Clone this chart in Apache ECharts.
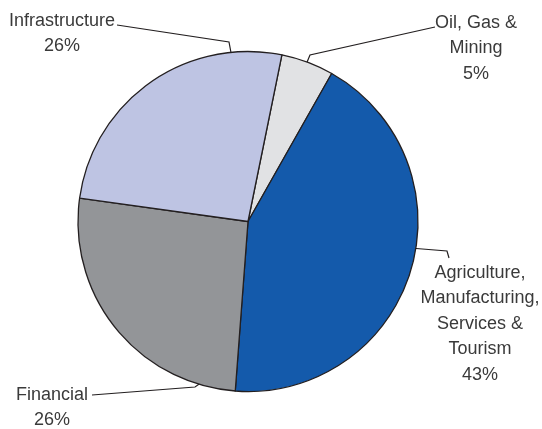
<!DOCTYPE html>
<html>
<head>
<meta charset="utf-8">
<script src="https://cdn.jsdelivr.net/npm/echarts@6/dist/echarts.min.js"></script>
<style>
  html, body { margin: 0; padding: 0; background: #ffffff; }
  #chart { width: 542px; height: 429px; }
</style>
</head>
<body>
<div id="chart"></div>
<script>
// Sector shares (percent), in clockwise order from the top
const sectors = ['Oil, Gas &\nMining', 'Agriculture,\nManufacturing,\nServices &\nTourism', 'Financial', 'Infrastructure'];
const shares = [5, 43, 26, 26];
const sliceColors = ['#e1e2e4', '#145aab', '#939598', '#bec4e3'];

// Label placement: text anchor (centre/top) and leader line from slice to text
const labelPlacement = [
  { x: 476, y: 10,  line: [[305, 67], [310, 55], [435, 27]] },
  { x: 480, y: 260, line: [[410, 248], [447, 251], [449, 258]] },
  { x: 52,  y: 382, line: [[205, 380], [195, 387], [92, 395]] },
  { x: 62,  y: 8,   line: [[232, 58], [229, 42], [117, 25]] }
];

const chart = echarts.init(document.getElementById('chart'), null, { renderer: 'canvas' });

chart.setOption({
  animation: false,
  backgroundColor: '#ffffff',
  series: [{
    type: 'pie',
    center: [248, 221.5],
    radius: 170,
    startAngle: 78.5,
    clockwise: true,
    silent: true,
    avoidLabelOverlap: false,
    data: sectors.map((name, i) => ({
      name: name,
      value: shares[i],
      itemStyle: { color: sliceColors[i] }
    })),
    itemStyle: { borderColor: '#231f20', borderWidth: 1.3 },
    label: {
      show: true,
      position: 'outside',
      formatter: '{b}\n{c}%',
      fontFamily: "'Liberation Sans', Arial, sans-serif",
      fontSize: 18,
      lineHeight: 25.5,
      color: '#3a3a3a',
      align: 'center',
      overflow: 'none'
    },
    labelLine: {
      show: true,
      length: 10,
      length2: 10,
      lineStyle: { color: '#231f20', width: 1.2 }
    },
    labelLayout: function (params) {
      const p = labelPlacement[params.dataIndex];
      return {
        x: p.x,
        y: p.y,
        align: 'center',
        verticalAlign: 'top',
        labelLinePoints: p.line
      };
    }
  }]
});
</script>
</body>
</html>
